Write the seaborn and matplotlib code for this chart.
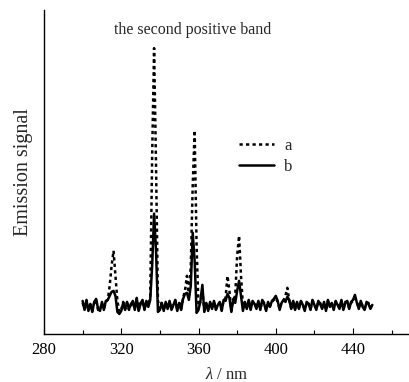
import numpy as np
import pandas as pd
import matplotlib
matplotlib.use("Agg")
import matplotlib.pyplot as plt
import seaborn as sns

wavelength = list(range(300, 451))

signal_b = [
    5, -4, 6, -5, 2, -6, 4, 7, -3, -5,
    4, -4, 5, 6, 10, 14, 15, 10, -6, -8,
    -5, 3, -4, 4, -3, 1, 5, -4, 8, -5,
    2, 6, -4, 5, -1, 6, 40, 92, 55, -6,
    -4, 3, -5, 4, -3, 5, -4, 1, 6, -5,
    3, -4, 7, 12, 13, 6, 20, 73, 45, -7,
    -4, 5, 21, -6, 3, -5, 4, -3, 5, -4,
    1, 4, -5, 6, 5, 12, 8, -6, 7, 3,
    15, 25, 10, -5, 4, -3, 6, -4, 5, 2,
    -3, 5, -4, 6, 2, -5, 4, -1, 5, 7,
    10, 5, -4, 3, 6, 4, 9, 6, -3, 5,
    -4, 4, -3, 5, 1, -5, 4, 2, -4, 6,
    1, -4, 5, 2, -3, 4, -5, 6, -1, 3,
    -4, 5, 1, -3, 6, -4, 3, 5, -3, 4,
    6, 11, 3, -3, 5, -1, -4, 4, 2, -3,
    1,
]

signal_a = [
    3, -3, 5, -4, 3, -5, 3, 6, -4, -4,
    3, -3, 4, 6, 20, 40, 55, 30, 5, -6,
    -4, 4, -3, 3, -4, 2, 4, -3, 7, -4,
    3, 5, -3, 4, 1, 8, 150, 257, 140, 5,
    -3, 4, -4, 3, -2, 4, -3, 2, 5, -4,
    4, -3, 8, 15, 30, 10, 40, 120, 175, 60,
    0, 4, 15, -5, 4, -4, 3, -2, 4, -3,
    2, 3, -4, 5, 8, 30, 15, -5, 6, 10,
    50, 70, 30, 0, 3, -2, 5, -3, 4, 3,
    -2, 4, -3, 5, 3, -4, 3, 0, 4, 6,
    8, 4, -3, 4, 5, 10, 18, 5, -2, 4,
    -3, 3, -2, 4, 2, -4, 3, 3, -3, 5,
    2, -3, 4, 3, -2, 3, -4, 5, 0, 2,
    -3, 4, 2, -2, 5, -3, 4, 4, -2, 3,
    5, 8, 4, -2, 4, 0, -3, 3, 3, -2,
    2,
]

series_names = ["a", "b"]
x_ticks = [280, 320, 360, 400, 440]
x_minor = [300, 340, 380, 420, 460]

df = pd.DataFrame({
    "wl": wavelength * 2,
    "signal": signal_a + signal_b,
    "series": [series_names[0]] * len(wavelength) + [series_names[1]] * len(wavelength),
})

sns.set_theme(style="white")
plt.rcParams["font.family"] = ["Liberation Serif", "DejaVu Serif"]
plt.rcParams["mathtext.fontset"] = "custom"
plt.rcParams["mathtext.it"] = "Liberation Serif:italic"
plt.rcParams["mathtext.rm"] = "Liberation Serif"

fig = plt.figure(figsize=(4.10, 3.82), dpi=100)
ax = fig.add_axes([44 / 410, 48 / 382, 366 / 410, 324 / 382])

sns.lineplot(data=df, x="wl", y="signal", style="series", style_order=series_names,
             dashes={"a": (1.3, 1.3), "b": ""}, color="black", ax=ax,
             linewidth=1.8, estimator=None)

ax.set_xlim(280, 469.5)
ax.set_ylim(-28, 295)
ax.set_xticks(x_ticks)
ax.set_xticks(x_minor, minor=True)
ax.set_xticklabels([str(t) for t in x_ticks], fontsize=12)
ax.set_yticks([])
ax.tick_params(axis="x", which="major", direction="in", length=4.5, width=0.8,
               bottom=True, colors="black", pad=6)
ax.tick_params(axis="x", which="minor", direction="in", length=3, width=0.8,
               bottom=True, colors="black")
for s in ["top", "right"]:
    ax.spines[s].set_visible(False)
for s in ["left", "bottom"]:
    ax.spines[s].set_color("black")
    ax.spines[s].set_linewidth(1.0)

ax.set_xlabel(r"$\it{\lambda}$ / nm", fontsize=12, labelpad=6)
ax.set_ylabel("Emission signal", fontsize=14.5, labelpad=8)

fig.text(193 / 410, 1 - 30 / 382, "the second positive band", fontsize=11.5,
         ha="center", va="center")

leg = ax.legend(loc="upper left", bbox_to_anchor=(180 / 366, 1 - 113 / 324),
                frameon=False, fontsize=12, handlelength=2.1, handletextpad=0.6,
                labelspacing=0.3)

fig.savefig("out.png", dpi=100)
